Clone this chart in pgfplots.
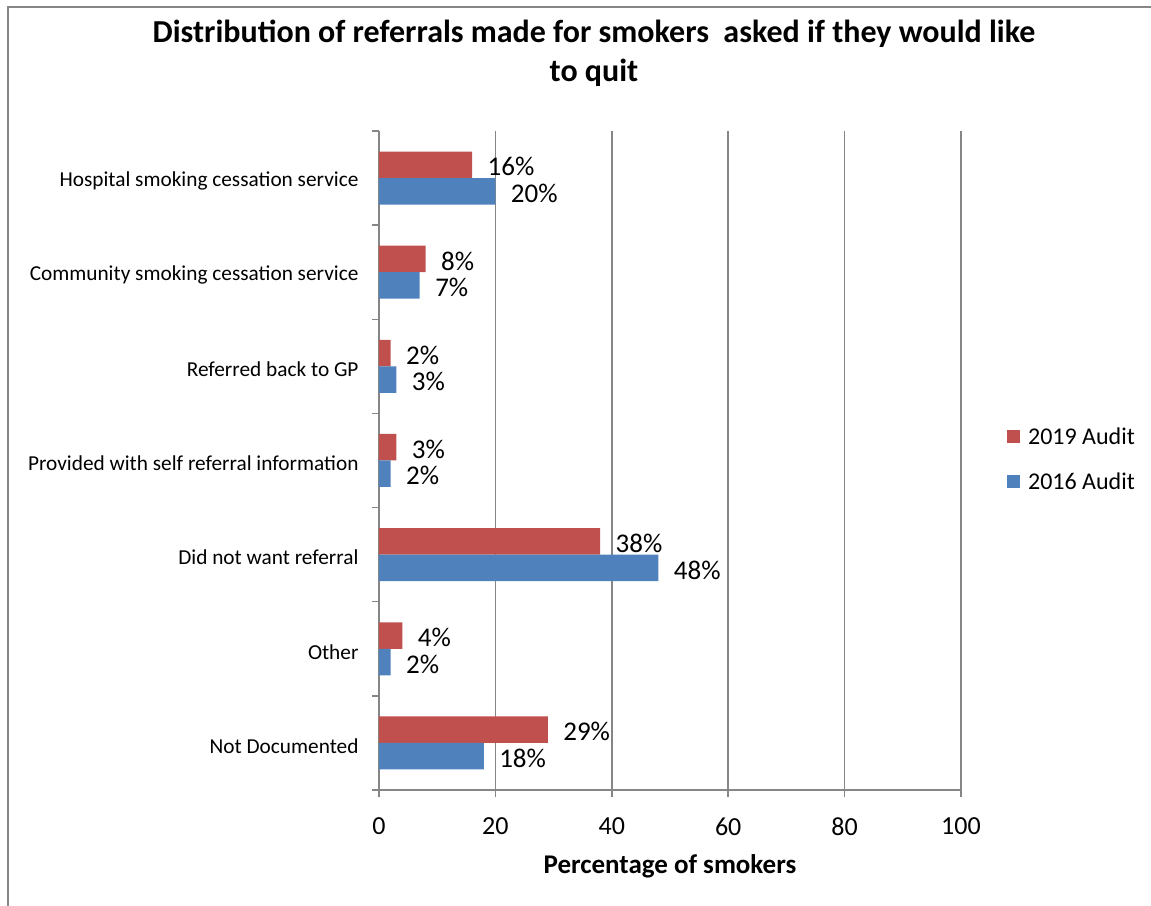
\documentclass[border=0pt]{standalone}
\usepackage{pgfplots}
\pgfplotsset{compat=1.18}
\usepackage{fontspec}
\setmainfont{Carlito}
\definecolor{cred}{HTML}{C0504D}
\definecolor{cblue}{HTML}{4F81BD}
\definecolor{cgrid}{HTML}{868686}
\begin{document}
\begin{tikzpicture}[x=1pt,y=1pt]
\useasboundingbox (0,0) rectangle (1151,905);
\draw[cgrid, line width=2pt] (8,-5) -- (8,898) -- (1160,898);
\node[font=\fontsize{32}{39}\selectfont\bfseries, align=center] at (594,852)
  {Distribution of referrals made for smokers\ \ asked if they would like\\to quit};
\begin{axis}[
  at={(379pt,115pt)}, anchor=south west,
  scale only axis, width=582pt, height=659pt,
  /pgf/number format/assume math mode=true,
  xmin=0, xmax=100, xtick={0,20,...,100},
  ymin=-0.5, ymax=6.5, ytick={0,...,6},
  yticklabels={Not Documented, Other, Did not want referral, Provided with self referral information, Referred back to GP, Community smoking cessation service, Hospital smoking cessation service},
  minor ytick={-0.5,0.5,...,6.5},
  major tick length=7pt, minor tick length=7pt,
  tick align=outside,
  ytick style={draw=none},
  minor y tick style={draw=cgrid, line width=1.5pt},
  xtick style={draw=cgrid, line width=1.5pt},
  axis x line*=bottom, axis y line*=left,
  axis line style={draw=cgrid, line width=1.5pt, -},
  xmajorgrids, grid style={cgrid, line width=1.5pt},
  xticklabel style={font=\fontsize{26}{30}\selectfont, yshift=-17pt},
  yticklabel style={font=\fontsize{21.3}{25}\selectfont, xshift=-10pt, yshift=-3pt},
  xlabel={Percentage of smokers},
  xlabel style={font=\fontsize{27}{30}\selectfont\bfseries, yshift=-12pt},
  xbar, bar width=26.5pt,
  nodes near coords={\pgfmathprintnumber{\pgfplotspointmeta}\%},
  nodes near coords style={font=\fontsize{27}{30}\selectfont, anchor=west, xshift=12pt, yshift=-2pt},
  legend style={at={(1.0737,0.502)}, anchor=west, draw=none, fill=none,
    font=\fontsize{24}{28}\selectfont, row sep=23pt,
    legend cell align=left},
  legend image code/.code={\fill[#1,draw=none] (0pt,-6.5pt) rectangle (13pt,6.5pt); \path (19pt,0pt);},
  clip=false,
]
\addplot[fill=cred, draw=none, bar shift=13.25pt] coordinates {
  (29,0) (4,1) (38,2) (3,3) (2,4) (8,5) (16,6)};
\addlegendentry{2019 Audit}
\addplot[fill=cblue, draw=none, bar shift=-13.25pt] coordinates {
  (18,0) (2,1) (48,2) (2,3) (3,4) (7,5) (20,6)};
\addlegendentry{2016 Audit}
\end{axis}
\end{tikzpicture}
\end{document}
